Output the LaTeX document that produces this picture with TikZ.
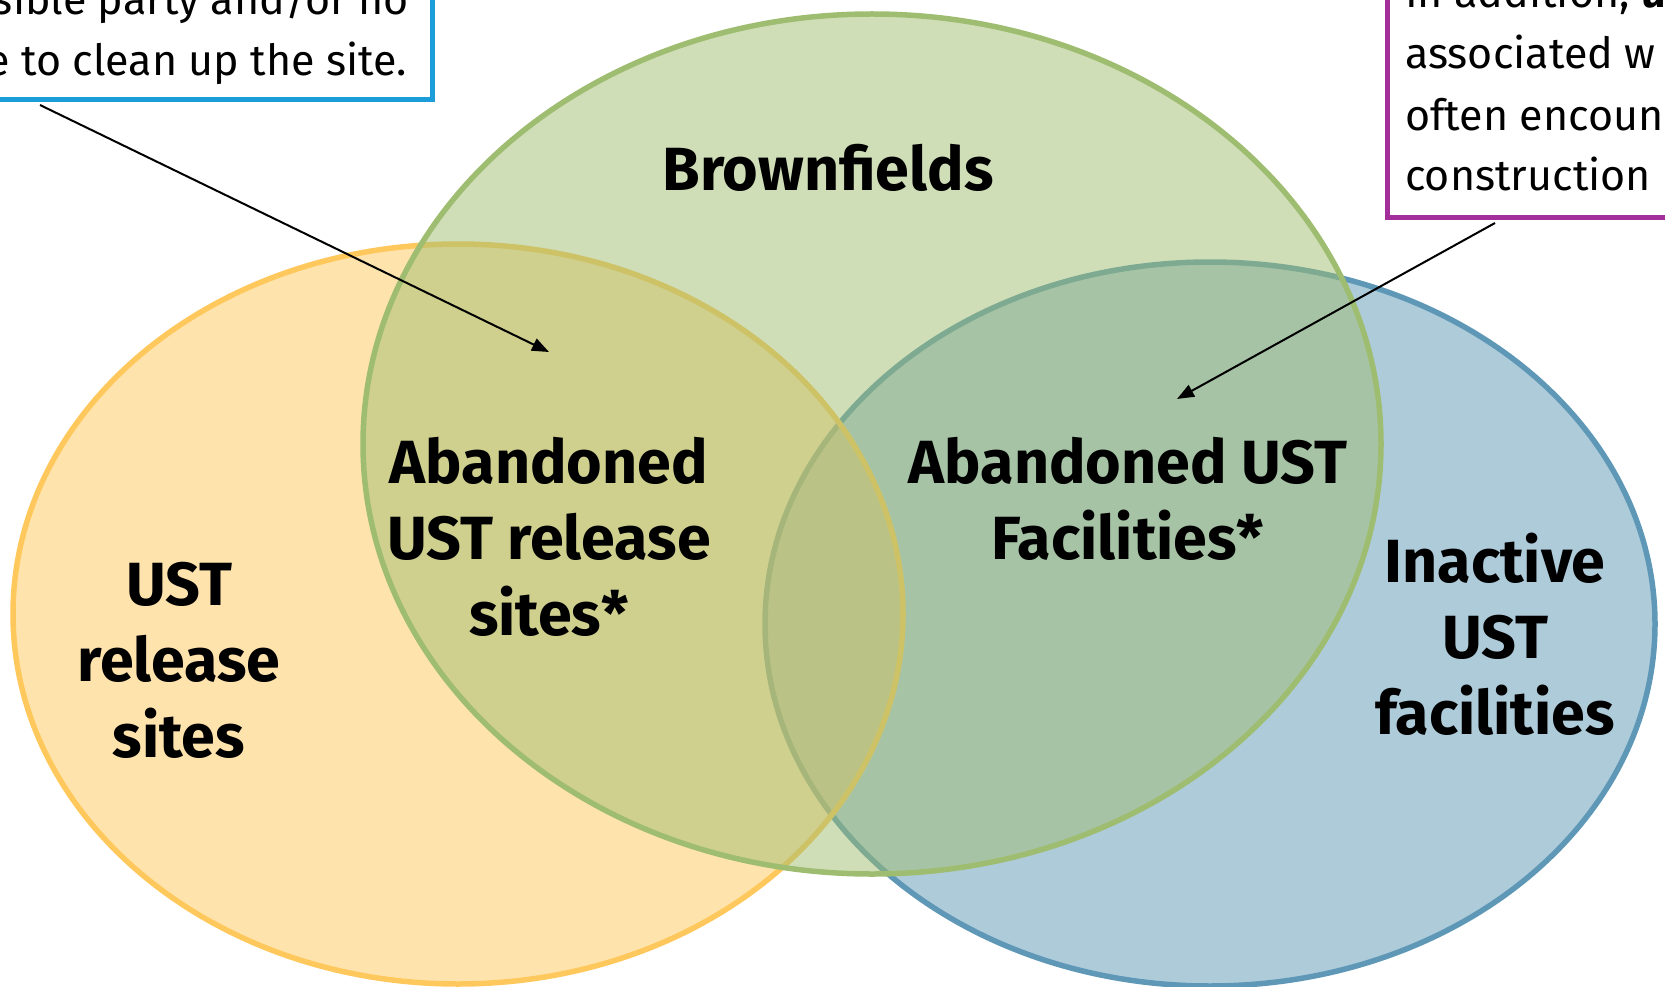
\documentclass[tikz,border=0pt]{standalone}
\usepackage{fontspec}
\setmainfont{Fira Sans}
\usetikzlibrary{arrows.meta}
\definecolor{vyellow}{HTML}{FFC85C}
\definecolor{vblue}{HTML}{5E98B6}
\definecolor{vgreen}{HTML}{9FBD70}
\definecolor{boxblue}{HTML}{1A9DD9}
\definecolor{boxpurple}{HTML}{A3309A}
\tikzset{
  setfill/.style={fill=#1, fill opacity=0.5, draw=#1, draw opacity=1, line width=5.5pt},
  biglabel/.style={font=\fontsize{61}{76}\selectfont\bfseries, align=center, inner sep=0pt, text=black},
  smalltext/.style={font=\fontsize{43}{61}\selectfont, inner sep=0pt, text=black},
  notebox/.style={draw=#1, line width=5pt, fill=white, inner sep=0pt},
  pointer/.style={line width=2pt, -{Triangle[length=17pt,width=13pt]}}
}
\begin{document}
\begin{tikzpicture}[x=1pt,y=-1pt]
\useasboundingbox (0,0) rectangle (1665,987);
\clip (0,0) rectangle (1665,987);
% Venn sets
\path[setfill=vblue] (1210,624) ellipse [x radius=445, y radius=362];
\path[setfill=vyellow] (458,614) ellipse [x radius=445, y radius=370];
\path[setfill=vgreen] (872,444) ellipse [x radius=509, y radius=430];
% labels
\node[biglabel, anchor=base] (brown) at (828,191) {Brownfields};
\node[biglabel] (abrel) at (549,537) {Abandoned\\UST release\\sites*};
\node[biglabel] (ustrel) at (179,660) {UST\\release\\sites};
\node[biglabel] (abfac) at (1128,499) {Abandoned UST\\Facilities*};
\node[biglabel] (inact) at (1495,634) {Inactive\\UST\\facilities};
% left note box
\node[notebox=boxblue, minimum width=600pt, minimum height=300pt, anchor=south east] (lbox) at (435,102) {};
\node[smalltext, anchor=base east] (l1) at (409,15) {sible party and/or no};
\node[smalltext, anchor=base east] (l2) at (407,76) {e to clean up the site.};
% right note box
\node[notebox=boxpurple, minimum width=500pt, minimum height=400pt, anchor=south west] (rbox) at (1385,220) {};
\node[smalltext, anchor=base west] (r1) at (1405,8) {In addition, \textbf{u}};
\node[smalltext, anchor=base west] (r2) at (1405,69) {associated w};
\node[smalltext, anchor=base west] (r3) at (1405,131) {often encoun};
\node[smalltext, anchor=base west] (r4) at (1405,191) {construction};
% pointers
\coordinate (p1s) at (40,105);
\coordinate (p1e) at (549,352);
\coordinate (p2s) at (1495,223);
\coordinate (p2e) at (1177,399);
\draw[pointer] (p1s) -- (p1e);
\draw[pointer] (p2s) -- (p2e);
\end{tikzpicture}
\end{document}
